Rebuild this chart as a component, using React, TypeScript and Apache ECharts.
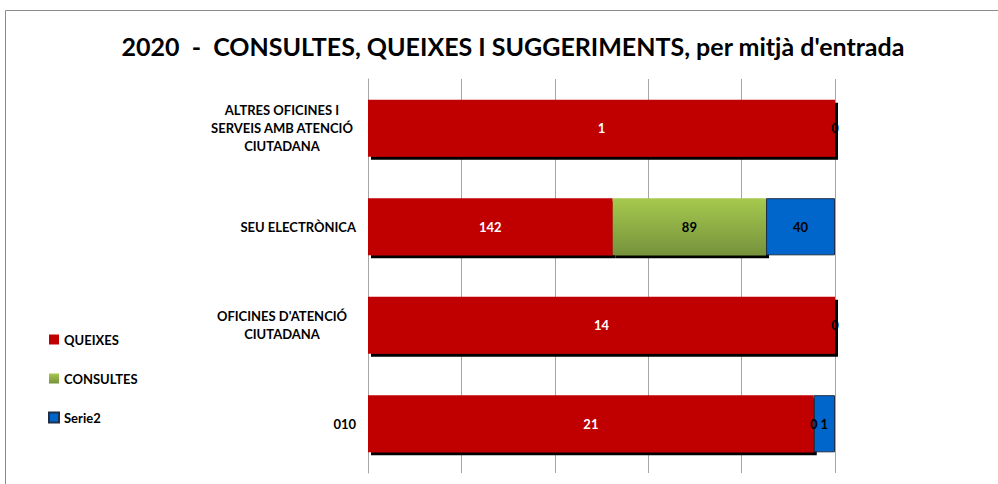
import React, { useEffect, useRef } from "react";
import * as echarts from "echarts";

const categories = [
  "ALTRES OFICINES I\nSERVEIS AMB ATENCIÓ\nCIUTADANA",
  "SEU ELECTRÒNICA",
  "OFICINES D'ATENCIÓ\nCIUTADANA",
  "010",
];
const queixes: (number | null)[] = [1, 142, 14, 21];
const consultes: (number | null)[] = [0, 89, 0, 0];
const serie2: (number | null)[] = [null, 40, null, 1];
const titleText = "2020  -  CONSULTES, QUEIXES I SUGGERIMENTS, per mitjà d'entrada";

const FONT = "Lato, 'Open Sans', sans-serif";

export default function App() {
  const ref = useRef<HTMLDivElement>(null);
  useEffect(() => {
    document.body.style.margin = "0";
    if (!ref.current) return;
    const chart = echarts.init(ref.current, undefined, { renderer: "svg" });
    const totals = categories.map(
      (_, i) => (queixes[i] || 0) + (consultes[i] || 0) + (serie2[i] || 0)
    );
    const pct = (arr: (number | null)[]) =>
      arr.map((v, i) => (v === null ? null : { value: (v / totals[i]) * 100, raw: v }));
    const fmt = (p: any) => String(p.data.raw);
    const shadow = { shadowColor: "#000", shadowOffsetX: 3, shadowOffsetY: 3, shadowBlur: 0 };
    const lbl = {
      show: true,
      position: "inside",
      formatter: fmt,
      fontFamily: FONT,
      fontWeight: "bold",
      fontSize: 13,
    };
    chart.setOption({
      animation: false,
      title: {
        text: titleText,
        left: 508,
        textAlign: "center",
        top: 28,
        textStyle: { fontFamily: FONT, fontWeight: "bold", fontSize: 25, color: "#000" },
      },
      graphic: [
        {
          type: "rect",
          shape: { x: 5.5, y: 10.5, width: 1000, height: 500 },
          style: { fill: "none", stroke: "#8c8c8c", lineWidth: 1 },
          silent: true,
        },
      ],
      legend: {
        orient: "vertical",
        left: 43,
        top: 328,
        itemWidth: 10,
        itemHeight: 10,
        itemGap: 26,
        icon: "rect",
        textStyle: { fontFamily: FONT, fontWeight: "bold", fontSize: 13, color: "#000" },
        data: ["QUEIXES", "CONSULTES", "Serie2"],
      },
      grid: { left: 368, right: 163, top: 79, bottom: 11, containLabel: false },
      xAxis: {
        type: "value",
        min: 0,
        max: 100,
        interval: 20,
        axisLabel: { show: false },
        axisLine: { show: false },
        axisTick: { show: false },
        splitLine: { show: true, lineStyle: { color: "#a6a6a6", width: 1 } },
      },
      yAxis: {
        type: "category",
        inverse: true,
        data: categories,
        axisLine: { show: true, lineStyle: { color: "#a6a6a6", width: 1 } },
        axisTick: { show: false },
        axisLabel: {
          margin: 12,
          color: "#000",
          fontFamily: FONT,
          fontWeight: "bold",
          fontSize: 13,
          lineHeight: 18,
          formatter: (v: string) =>
            v.indexOf("\n") >= 0
              ? v
                  .split("\n")
                  .map((l) => `{m|${l}}`)
                  .join("\n")
              : v,
          rich: {
            m: {
              width: 148,
              align: "center",
              fontFamily: FONT,
              fontWeight: "bold",
              fontSize: 13,
              lineHeight: 18,
              color: "#000",
            },
          },
        },
      },
      series: [
        {
          name: "QUEIXES",
          type: "bar",
          stack: "t",
          barWidth: "58%",
          data: pct(queixes),
          itemStyle: { color: "#c00000", ...shadow },
          label: { ...lbl, color: "#fff" },
        },
        {
          name: "CONSULTES",
          type: "bar",
          stack: "t",
          data: pct(consultes),
          itemStyle: {
            color: new echarts.graphic.LinearGradient(0, 0, 0, 1, [
              { offset: 0, color: "#a6c94e" },
              { offset: 1, color: "#76923c" },
            ]),
            ...shadow,
          },
          label: { ...lbl, color: "#000" },
        },
        {
          name: "Serie2",
          type: "bar",
          stack: "t",
          data: pct(serie2),
          itemStyle: { color: "#0066cc", borderColor: "#1f2f47", borderWidth: 1 },
          label: { ...lbl, color: "#000" },
        },
      ],
    });
    return () => chart.dispose();
  }, []);
  return <div ref={ref} style={{ width: 998, height: 484 }} />;
}
